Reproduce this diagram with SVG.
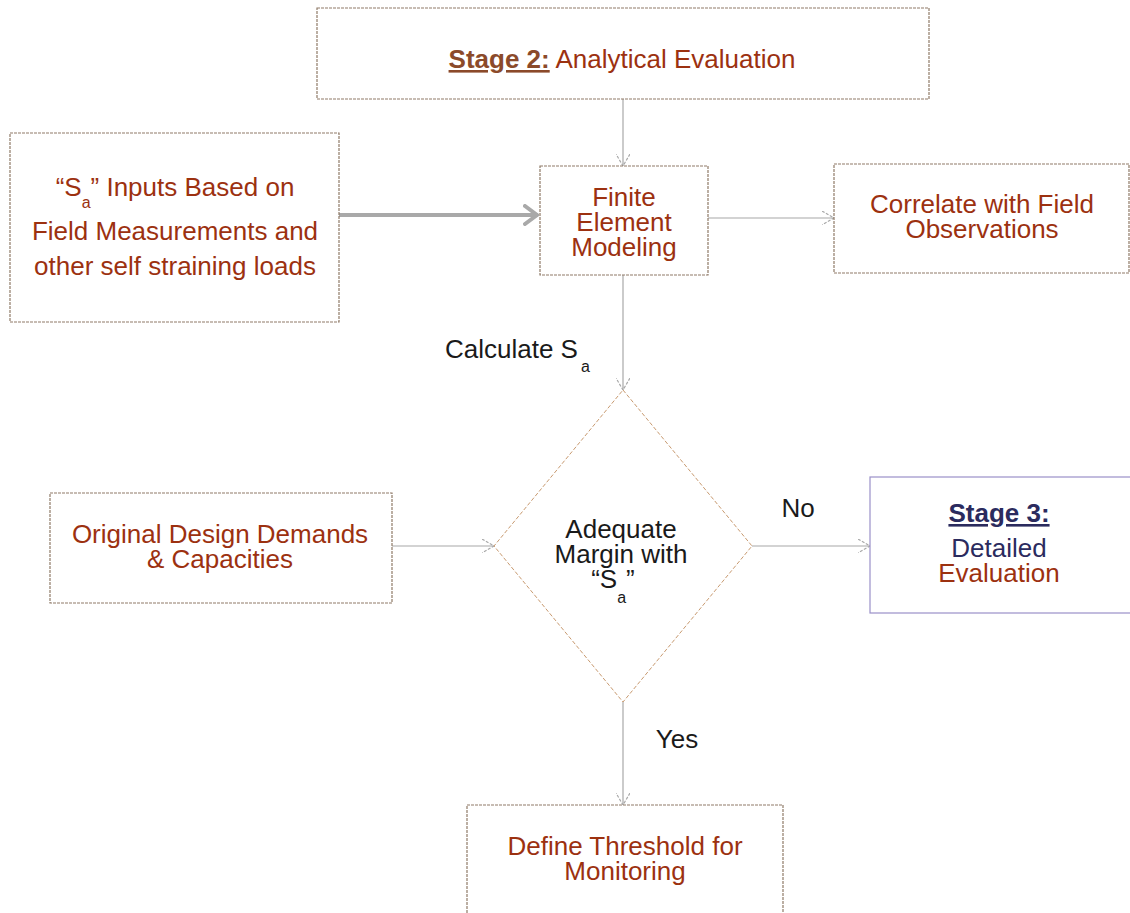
<svg xmlns="http://www.w3.org/2000/svg" width="1130" height="913" viewBox="0 0 1130 913">
<style>
.box{fill:#fff;stroke:#8f7b68;stroke-width:1.2;stroke-dasharray:3 1}
.t{font-family:"Liberation Sans",Arial,sans-serif;font-size:26px;fill:#9c3110;text-anchor:middle}
.k{font-family:"Liberation Sans",Arial,sans-serif;font-size:26px;fill:#1a1a1a}
.sub{font-size:16px}
.c{fill:none;stroke:#a8a8a8;stroke-width:1.2}
.thick{fill:none;stroke:#a9a9a9;stroke-width:4}
</style>
<defs>
<marker id="ah" viewBox="0 0 12 14" refX="12" refY="7" markerWidth="12" markerHeight="14" markerUnits="userSpaceOnUse" orient="auto">
<path d="M0,0 L12,7 L0,14" fill="none" stroke="#a8a8a8" stroke-width="1.2" stroke-dasharray="3 1.5"/>
</marker>
<marker id="ahT" viewBox="0 0 16 22" refX="15" refY="11" markerWidth="16" markerHeight="22" markerUnits="userSpaceOnUse" orient="auto">
<path d="M2,2 L14,11 L2,20" fill="none" stroke="#a9a9a9" stroke-width="4" stroke-linecap="round"/>
</marker>
</defs>
<rect width="1130" height="913" fill="#fff"/>
<g id="connectors">
<line class="c" x1="623" y1="99" x2="623" y2="166" marker-end="url(#ah)"/>
<line class="thick" x1="339" y1="215" x2="538" y2="215" marker-end="url(#ahT)"/>
<line class="c" x1="708" y1="218" x2="834" y2="218" marker-end="url(#ah)"/>
<line class="c" x1="623" y1="275" x2="623" y2="390" marker-end="url(#ah)"/>
<line class="c" x1="392" y1="546" x2="494" y2="546" marker-end="url(#ah)"/>
<line class="c" x1="752" y1="546" x2="870" y2="546" marker-end="url(#ah)"/>
<line class="c" x1="623" y1="702" x2="623" y2="805" marker-end="url(#ah)"/>
</g>
<g id="stage2">
<rect class="box" x="317" y="8" width="612" height="91"/>
<text class="t" x="622" y="68"><tspan font-weight="bold" fill="#8b4a2a" text-decoration="underline">Stage 2:</tspan> Analytical Evaluation</text>
</g>
<g id="inputs">
<rect class="box" x="10" y="133" width="329" height="189"/>
<text class="t" x="175" y="196">“S<tspan class="sub" dy="12">a</tspan><tspan dy="-12">” Inputs Based on</tspan></text>
<text class="t" x="175" y="240">Field Measurements and</text>
<text class="t" x="175" y="275">other self straining loads</text>
</g>
<g id="fem">
<rect class="box" x="540" y="166" width="168" height="109"/>
<text class="t" x="624" y="206">Finite</text>
<text class="t" x="624" y="231">Element</text>
<text class="t" x="624" y="256">Modeling</text>
</g>
<g id="correlate">
<rect class="box" x="834" y="164" width="295" height="109"/>
<text class="t" x="982" y="213">Correlate with Field</text>
<text class="t" x="982" y="238">Observations</text>
</g>
<g id="calc-label">
<text class="k" x="445" y="358">Calculate S</text>
<text class="k sub" x="581" y="372">a</text>
</g>
<g id="decision">
<polygon points="623,390 752,546 623,702 494,546" fill="#fff" stroke="#c89a70" stroke-width="1" stroke-dasharray="4 2"/>
<text class="t" x="621" y="538" fill="#1a1a1a" style="fill:#1a1a1a">Adequate</text>
<text class="t" x="621" y="563" style="fill:#1a1a1a">Margin with</text>
<text class="t" x="613" y="588" style="fill:#1a1a1a">“S<tspan class="sub" dy="15">a</tspan><tspan dy="-15">”</tspan></text>
</g>
<g id="original">
<rect class="box" x="50" y="493" width="342" height="110"/>
<text class="t" x="220" y="543">Original Design Demands</text>
<text class="t" x="220" y="568">&amp; Capacities</text>
</g>
<g id="no-label"><text class="k" x="798" y="517" text-anchor="middle">No</text></g>
<g id="stage3">
<rect x="870" y="477" width="262" height="136" fill="#fff" stroke="#9a90c8" stroke-width="1.2"/>
<text class="t" x="999" y="522" font-weight="bold" style="fill:#2b2b5e" text-decoration="underline">Stage 3:</text>
<text class="t" x="999" y="557" style="fill:#2b2b5e">Detailed</text>
<text class="t" x="999" y="582">Evaluation</text>
</g>
<g id="yes-label"><text class="k" x="677" y="748" text-anchor="middle">Yes</text></g>
<g id="threshold">
<rect class="box" x="467" y="805" width="316" height="120"/>
<text class="t" x="625" y="855">Define Threshold for</text>
<text class="t" x="625" y="880">Monitoring</text>
</g>
</svg>
